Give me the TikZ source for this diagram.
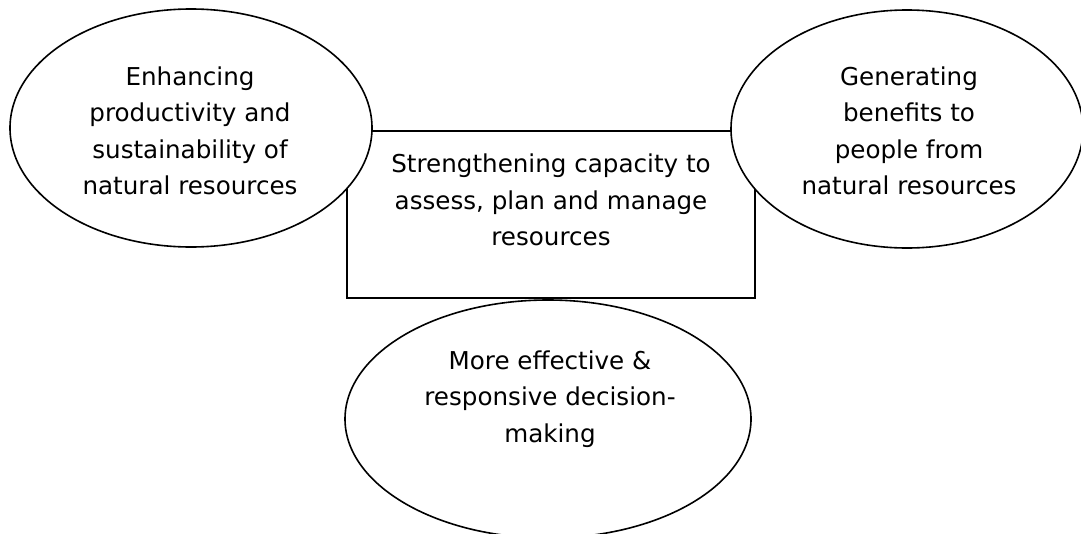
\documentclass[tikz,border=0pt]{standalone}
\usepackage{fontspec}
\setmainfont{DejaVu Sans}
\usepackage{tikz}
\usetikzlibrary{shapes.geometric}

\begin{document}
\begin{tikzpicture}[x=1pt,y=-1pt,
		oval/.style={draw, ellipse, fill=white, line width=1.6pt, inner sep=0pt},
		box/.style={draw, rectangle, line width=1.6pt, inner sep=0pt},
		txt/.style={align=center, font=\fontsize{24.6}{36.5}\selectfont}]
		\useasboundingbox (0,0) rectangle (1081,533);
		\node[box, minimum width=408pt, minimum height=167pt] (core) at (551,214.5) {};
		\node[txt] (coretxt) at (551,200) {Strengthening capacity to\\assess, plan and manage\\resources};
		\node[oval, minimum width=362pt, minimum height=238pt] (enh) at (191,128) {};
		\node[txt] (enhtxt) at (190,131) {Enhancing\\productivity and\\sustainability of\\natural resources};
		\node[oval, minimum width=352pt, minimum height=238pt] (gen) at (907,129) {};
		\node[txt] (gentxt) at (909,131) {Generating\\benefits to\\people from\\natural resources};
		\node[oval, minimum width=406pt, minimum height=238pt] (dec) at (548,419) {};
		\node[txt] (dectxt) at (550,399) {More effective \&\\responsive decision-\\making};
	\end{tikzpicture}
\end{document}
